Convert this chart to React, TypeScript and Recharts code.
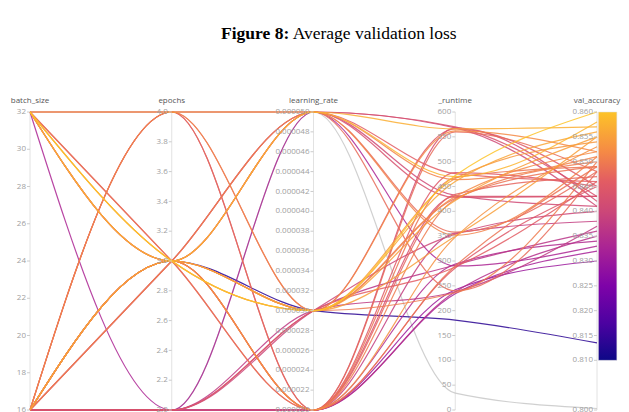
import { LineChart, Line, XAxis, YAxis, ReferenceLine, ReferenceDot, ReferenceArea } from 'recharts';

// one entry per run
const batchSize = [
  32, 32, 32, 16, 16, 16, 16,
  32, 32, 32, 32, 32, 32, 32, 32,
  16, 16, 16, 16, 16, 16, 16, 16,
  16, 16, 16, 16, 16, 32,
  32, 16, 16, 16, 16, 16,
  32, 16, 16, 16, 16, 16,
  16, 16,
];
const epochs = [
  4, 4, 4, 4, 4, 4, 4,
  3, 3, 3, 3, 3, 3, 3, 3,
  3, 3, 3, 3, 3, 3, 3, 3,
  3, 3, 2, 3, 2, 3,
  2, 2, 2, 2, 2, 3,
  3, 2, 3, 2, 2, 2,
  3, 2,
];
// learning rate in units of 1e-6
const learningRate = [
  50, 50, 50, 30, 30, 20, 20,
  50, 50, 50, 30, 30, 20, 20, 30,
  50, 50, 30, 30, 20, 20, 30, 20,
  50, 30, 30, 20, 20, 50,
  50, 30, 30, 20, 20, 20,
  50, 30, 30, 20, 20, 20,
  30, 50,
];
const runtime = [
  570, 566, 568, 566, 562, 568, 560,
  470, 464, 476, 472, 466, 468, 478, 460,
  428, 432, 430, 426, 430, 434, 422, 424,
  352, 350, 354, 348, 356, 358,
  290, 288, 292, 286, 294, 290,
  240, 238, 236, 234, 242, 238,
  181, 34,
];
const valAccuracy = [
  0.843, 0.857, 0.841, 0.845, 0.852, 0.842, 0.848,
  0.858, 0.851, 0.846, 0.86, 0.854, 0.849, 0.845, 0.856,
  0.843, 0.841, 0.852, 0.849, 0.843, 0.847, 0.855, 0.85,
  0.851, 0.855, 0.84, 0.853, 0.838, 0.848,
  0.833, 0.846, 0.836, 0.845, 0.834, 0.849,
  0.848, 0.837, 0.85, 0.832, 0.83, 0.835,
  0.8135, 0.8003,
];

const dimensions = ['batch_size', 'epochs', 'learning_rate', '_runtime', 'val_accuracy'];
const batchTicks = [16, 18, 20, 22, 24, 26, 28, 30, 32];
const epochTicks = [2.0, 2.2, 2.4, 2.6, 2.8, 3.0, 3.2, 3.4, 3.6, 3.8, 4.0];
const lrTicks = [20, 22, 24, 26, 28, 30, 32, 34, 36, 38, 40, 42, 44, 46, 48, 50];
const runtimeTicks = [0, 50, 100, 150, 200, 250, 300, 350, 400, 450, 500, 550, 600];
const accTicks = [0.8, 0.81, 0.815, 0.82, 0.825, 0.83, 0.835, 0.84, 0.845, 0.85, 0.855, 0.86];

const ranges: [number, number][] = [[16, 32], [2, 4], [20, 50], [0, 600], [0.8, 0.86]];
const norm = (d: number, v: number) => (v - ranges[d][0]) / (ranges[d][1] - ranges[d][0]);

const stops: [number, string][] = [
  [0, '#0d0887'], [0.15, '#4c02a1'], [0.3, '#7e03a8'], [0.45, '#a92395'],
  [0.6, '#cc4778'], [0.72, '#e25c63'], [0.84, '#f58a45'], [1, '#fdc328'],
];

function hex(c: string) {
  return [1, 3, 5].map((i) => parseInt(c.slice(i, i + 2), 16));
}

function plasma(t: number) {
  t = Math.max(0, Math.min(1, t));
  for (let i = 1; i < stops.length; i++) {
    if (t <= stops[i][0]) {
      const [t0, c0] = stops[i - 1];
      const [t1, c1] = stops[i];
      const f = (t - t0) / (t1 - t0);
      const a = hex(c0), b = hex(c1);
      return `rgb(${a.map((v, j) => Math.round(v + (b[j] - v) * f)).join(',')})`;
    }
  }
  return stops[stops.length - 1][1];
}

const lineColor = (acc: number) => (acc < 0.81 ? '#c8c8c8' : plasma((acc - 0.81) / 0.05));

const runs = valAccuracy.map((_, k) => k);
const chartData = dimensions.map((name, d) => {
  const row: Record<string, number | string> = { x: d, name };
  const cols = [batchSize, epochs, learningRate, runtime, valAccuracy];
  runs.forEach((k) => { row[`r${k}`] = norm(d, cols[d][k]); });
  return row;
});
const drawOrder = [...runs].sort((a, b) => valAccuracy[a] - valAccuracy[b]);

const tickSets: { values: number[]; fmt: (v: number) => string }[] = [
  { values: batchTicks, fmt: (v) => String(v) },
  { values: epochTicks, fmt: (v) => v.toFixed(1) },
  { values: lrTicks, fmt: (v) => (v / 1e6).toFixed(6) },
  { values: runtimeTicks, fmt: (v) => String(v) },
  { values: accTicks, fmt: (v) => v.toFixed(3) },
];

const tickShape = (label: string) => (p: any) => (
  <g>
    <line x1={p.cx - 3} x2={p.cx} y1={p.cy} y2={p.cy} stroke="#ccc" strokeWidth={1} />
    <text x={p.cx - 4} y={p.cy} textAnchor="end" dominantBaseline="middle" fontSize={8} fill="#a0a0a0" fontFamily="Open Sans">
      {label}
    </text>
  </g>
);

export default function App() {
  return (
    <div style={{ position: 'relative', width: 629, height: 412, background: '#fff', overflow: 'hidden' }}>
      <style>{'body{margin:0}'}</style>
      <div style={{ position: 'absolute', top: 23, left: 221, fontFamily: '"Liberation Serif", "Times New Roman", serif', fontSize: 17.5, color: '#000', whiteSpace: 'nowrap' }}>
        <b>Figure 8:</b> Average validation loss
      </div>
      <LineChart width={629} height={412} data={chartData} margin={{ top: 112, right: 32, bottom: 2, left: 30 }}>
        <defs>
          <linearGradient id="plasmaBar" x1="0" y1="1" x2="0" y2="0">
            {stops.map(([o, c]) => <stop key={o} offset={o} stopColor={c} />)}
          </linearGradient>
        </defs>
        <XAxis dataKey="x" type="number" domain={[0, 4]} hide />
        <YAxis type="number" domain={[0, 1]} hide />
        {dimensions.map((name, d) => (
          <ReferenceLine key={name} x={d} stroke="#e2e2e2" strokeWidth={1}
            label={{ value: name, position: 'top', offset: 9, fontSize: 8, fill: '#555', fontFamily: 'Open Sans' }} />
        ))}
        <ReferenceArea x1={4.01} x2={4.14} y1={norm(4, 0.81)} y2={1} fill="url(#plasmaBar)" fillOpacity={1}
          stroke="#ddd" strokeWidth={0.5} ifOverflow="visible" />
        {tickSets.map((ts, d) => ts.values.map((v) => (
          <ReferenceDot key={`${d}-${v}`} x={d} y={norm(d, v)} r={0} ifOverflow="visible" shape={tickShape(ts.fmt(v))} />
        )))}
        {drawOrder.map((k) => (
          <Line key={k} dataKey={`r${k}`} type="monotone" stroke={lineColor(valAccuracy[k])}
            strokeWidth={1.2} strokeOpacity={0.85} dot={false} activeDot={false} isAnimationActive={false} />
        ))}
      </LineChart>
    </div>
  );
}
